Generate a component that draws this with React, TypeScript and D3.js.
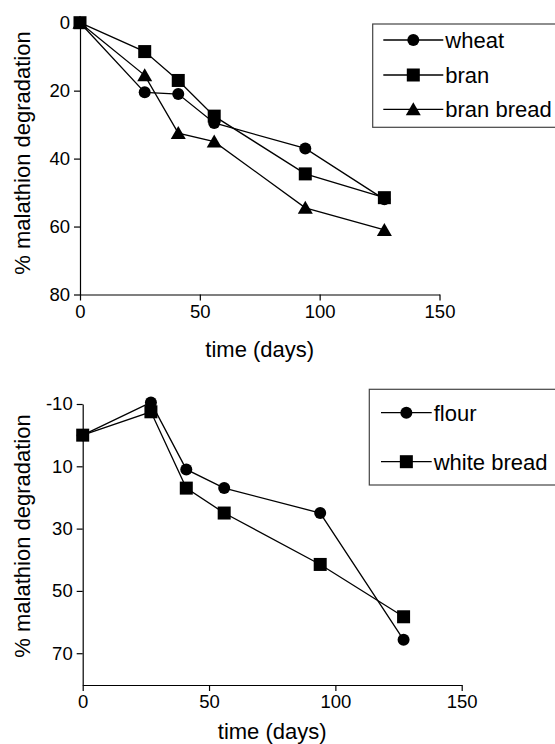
import React, { useRef, useEffect } from 'react';
import * as d3 from 'd3';

const days = [0, 27, 41, 56, 94, 127];
const wheat = [0, 20.5, 21, 29.5, 37, 52];
const bran = [0, 8.5, 17, 27.5, 44.5, 51.5];
const branBread = [0, 15.5, 32.5, 35, 54.5, 61];
const flour = [0, -10.5, 11, 17, 25, 65.7];
const whiteBread = [0, -7.5, 17, 25, 41.5, 58.3];

const xTicks = [0, 50, 100, 150];
const yTicksTop = [0, 20, 40, 60, 80];
const yTicksBottom = [-10, 10, 30, 50, 70];

const FONT = '"Liberation Sans", Arial, sans-serif';

function drawMarker(g, shape, x, y) {
  if (shape === 'circle') {
    g.append('circle').attr('cx', x).attr('cy', y).attr('r', 6).attr('fill', '#000');
  } else if (shape === 'square') {
    g.append('rect').attr('x', x - 6.5).attr('y', y - 6.5).attr('width', 13).attr('height', 13).attr('fill', '#000');
  } else {
    g.append('path')
      .attr('d', `M${x},${y - 7}L${x + 7.5},${y + 6}L${x - 7.5},${y + 6}Z`)
      .attr('fill', '#000');
  }
}

function panel(svg, opts) {
  const { xRange, yRange, yDomain, yTicks, series, legend, labelY, xLabelY } = opts;
  const x = d3.scaleLinear().domain([0, 150]).range(xRange);
  const y = d3.scaleLinear().domain(yDomain).range(yRange);
  const g = svg.append('g');

  // axes
  const xAxis = d3.axisBottom(x).tickValues(xTicks).tickFormat((d) => String(d)).tickSize(6).tickSizeOuter(0).tickPadding(4);
  g.append('g').attr('transform', `translate(0,${yRange[1]})`).call(xAxis);
  const yAxis = d3.axisLeft(y).tickValues(yTicks).tickFormat((d) => String(d)).tickSize(6).tickSizeOuter(0).tickPadding(4);
  g.append('g').attr('transform', `translate(${xRange[0]},0)`).call(yAxis);
  g.selectAll('.domain').attr('stroke', '#000').attr('stroke-width', 1.2);
  g.selectAll('.tick line').attr('stroke', '#000').attr('stroke-width', 1.2);
  g.selectAll('.tick text')
    .attr('font-family', FONT)
    .attr('font-size', 18.5)
    .attr('fill', '#000');

  // axis labels
  g.append('text')
    .attr('x', (xRange[0] + xRange[1]) / 2)
    .attr('y', xLabelY)
    .attr('text-anchor', 'middle')
    .attr('font-family', FONT)
    .attr('font-size', 22)
    .text('time (days)');
  g.append('text')
    .attr('transform', `translate(30,${labelY}) rotate(-90)`)
    .attr('text-anchor', 'middle')
    .attr('font-family', FONT)
    .attr('font-size', 22)
    .text('% malathion degradation');

  // lines
  const line = d3
    .line()
    .x((d, i) => x(days[i]))
    .y((d) => y(d));
  series.forEach((s) => {
    g.append('path')
      .attr('d', line(s.values))
      .attr('fill', 'none')
      .attr('stroke', '#000')
      .attr('stroke-width', 1.3);
  });
  series.forEach((s) => {
    s.values.forEach((v, i) => drawMarker(g, s.shape, x(days[i]), y(v)));
  });

  // legend
  const lg = g.append('g');
  lg.append('rect')
    .attr('x', legend.x)
    .attr('y', legend.y)
    .attr('width', 250)
    .attr('height', legend.h)
    .attr('fill', '#fff')
    .attr('stroke', '#444')
    .attr('stroke-width', 1.2);
  series.forEach((s, i) => {
    const cy = legend.rows[i];
    lg.append('line')
      .attr('x1', legend.lx1)
      .attr('x2', legend.lx2)
      .attr('y1', cy)
      .attr('y2', cy)
      .attr('stroke', '#000')
      .attr('stroke-width', 1.3);
    drawMarker(lg, s.shape, (legend.lx1 + legend.lx2) / 2, cy);
    lg.append('text')
      .attr('x', legend.lx2 + 2)
      .attr('y', cy + 8)
      .attr('font-family', FONT)
      .attr('font-size', 22)
      .text(s.name);
  });
}

export default function App() {
  const svgRef = useRef(null);

  useEffect(() => {
    const svg = d3.select(svgRef.current);
    svg.selectAll('*').remove();

    panel(svg, {
      xRange: [80, 439.5],
      yRange: [22.7, 294.5],
      yDomain: [0, 80],
      yTicks: yTicksTop,
      labelY: 153,
      xLabelY: 357,
      series: [
        { name: 'wheat', shape: 'circle', values: wheat },
        { name: 'bran', shape: 'square', values: bran },
        { name: 'bran bread', shape: 'triangle', values: branBread },
      ],
      legend: { x: 372.7, y: 24, h: 103.3, lx1: 383.3, lx2: 443.3, rows: [40, 75, 109.3] },
    });

    panel(svg, {
      xRange: [82.7, 461.7],
      yRange: [404, 685],
      yDomain: [-10, 80.2],
      yTicks: yTicksBottom,
      labelY: 536,
      xLabelY: 739,
      series: [
        { name: 'flour', shape: 'circle', values: flour },
        { name: 'white bread', shape: 'square', values: whiteBread },
      ],
      legend: { x: 369.3, y: 389.3, h: 95.7, lx1: 381, lx2: 431.7, rows: [412.7, 461.7] },
    });
  }, []);

  return (
    <svg
      ref={svgRef}
      width={555}
      height={744}
      style={{ position: 'absolute', left: 0, top: 0, background: '#fff' }}
    ></svg>
  );
}
